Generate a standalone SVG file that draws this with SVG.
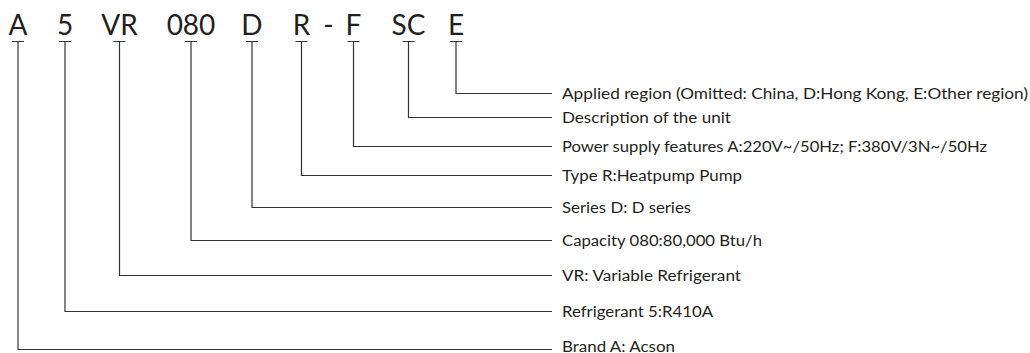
<svg xmlns="http://www.w3.org/2000/svg" width="1030" height="353" viewBox="0 0 1030 353">
<style>
.code{font-family:Lato,"Open Sans","Liberation Sans",sans-serif;font-size:28px;fill:#231f20;text-anchor:middle}
.lbl{font-family:Lato,"Open Sans","Liberation Sans",sans-serif;font-size:15.5px;fill:#231f20}
.ln{fill:none;stroke:#333;stroke-width:1.2}
</style>
<rect width="1030" height="353" fill="#fff"/>
<g id="codes">
<text class="code" x="18" y="35">A</text>
<text class="code" x="65" y="35">5</text>
<text class="code" x="119.5" y="35">VR</text>
<text class="code" x="191" y="35">080</text>
<text class="code" x="252" y="35">D</text>
<text class="code" x="301.5" y="35">R</text>
<text class="code" x="328.5" y="35">-</text>
<text class="code" x="353.5" y="35">F</text>
<text class="code" x="408.5" y="35">SC</text>
<text class="code" x="456" y="35">E</text>
</g>
<g id="connectors" class="ln">
<path d="M12 41.5h12M18 41.5V349.5H552"/>
<path d="M59 41.5h12M65 41.5V311.5H552"/>
<path d="M113.5 41.5h12M119.5 41.5V275.5H552"/>
<path d="M185 41.5h12M191 41.5V240.5H552"/>
<path d="M246 41.5h12M252 41.5V207.5H552"/>
<path d="M295.5 41.5h12M301.5 41.5V175.5H552"/>
<path d="M347.5 41.5h12M353.5 41.5V146.5H552"/>
<path d="M402.5 41.5h12M408.5 41.5V117.5H552"/>
<path d="M450 41.5h12M456 41.5V93.5H552"/>
</g>
<g id="labels">
<text class="lbl" x="562" y="99" textLength="466" lengthAdjust="spacingAndGlyphs">Applied region (Omitted: China, D:Hong Kong, E:Other region)</text>
<text class="lbl" x="562" y="123" textLength="169" lengthAdjust="spacingAndGlyphs">Description of the unit</text>
<text class="lbl" x="562" y="152" textLength="425" lengthAdjust="spacingAndGlyphs">Power supply features A:220V~/50Hz; F:380V/3N~/50Hz</text>
<text class="lbl" x="562" y="181" textLength="180" lengthAdjust="spacingAndGlyphs">Type R:Heatpump Pump</text>
<text class="lbl" x="562" y="213" textLength="129" lengthAdjust="spacingAndGlyphs">Series D: D series</text>
<text class="lbl" x="562" y="246" textLength="200" lengthAdjust="spacingAndGlyphs">Capacity 080:80,000 Btu/h</text>
<text class="lbl" x="562" y="281" textLength="179" lengthAdjust="spacingAndGlyphs">VR: Variable Refrigerant</text>
<text class="lbl" x="562" y="317" textLength="151" lengthAdjust="spacingAndGlyphs">Refrigerant 5:R410A</text>
<text class="lbl" x="562" y="352" textLength="113" lengthAdjust="spacingAndGlyphs">Brand A: Acson</text>
</g>
</svg>
